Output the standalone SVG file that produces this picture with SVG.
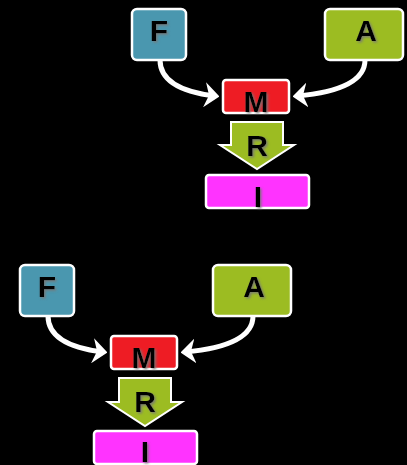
<svg xmlns="http://www.w3.org/2000/svg" width="407" height="465" viewBox="0 0 407 465">
<style>
.box{stroke:#fff;stroke-width:2.5}
.f{fill:#4A97AF}
.a{fill:#9CBC22}
.m{fill:#EE1C24}
.i{fill:#FF33FF}
.r{fill:#9CBC22;stroke:#fff;stroke-width:2}
.lbl{font-family:"Liberation Sans",Arial,sans-serif;font-weight:bold;font-size:30px;fill:#000;text-anchor:middle;filter:url(#sh)}
.con{fill:none;stroke:#fff;stroke-width:5}
</style>
<defs>
<filter id="sh" x="-30%" y="-30%" width="160%" height="160%">
<feDropShadow dx="1.5" dy="1.5" stdDeviation="1" flood-color="#777" flood-opacity="0.9"/>
</filter>
<marker id="ah" viewBox="0 0 10 10" refX="7" refY="5" markerWidth="3" markerHeight="5" markerUnits="strokeWidth" orient="auto" preserveAspectRatio="none">
<path d="M0,0 L10,5 L0,10 L3,5 Z" fill="#fff"/>
</marker>
</defs>
<rect width="407" height="465" fill="#000"/>
<g id="top">
<g id="connectors1">
<path class="con" d="M160,60 C160,85 190,93 215,96" marker-end="url(#ah)"/>
<path class="con" d="M365,60 C365,85 330,93 297,96" marker-end="url(#ah)"/>
</g>
<g id="F1"><rect class="box f" x="132" y="9" width="54" height="51" rx="5"/><text class="lbl" x="159" y="41">F</text></g>
<g id="A1"><rect class="box a" x="325" y="9" width="78" height="51" rx="5"/><text class="lbl" x="366" y="41">A</text></g>
<g id="M1"><rect class="box m" x="223" y="80" width="66" height="33" rx="3"/><text class="lbl" x="256" y="112">M</text></g>
<g id="R1"><path class="r" d="M231,122 H283 V145 H294 L257,169 L220,145 H231 Z"/><text class="lbl" x="257" y="156">R</text></g>
<g id="I1"><rect class="box i" x="206" y="175" width="103" height="33" rx="3"/><text class="lbl" x="258" y="207">I</text></g>
</g>
<g id="bottom">
<g id="connectors2">
<path class="con" d="M48,316 C48,341 78,349 103,352" marker-end="url(#ah)"/>
<path class="con" d="M253,316 C253,341 218,349 185,352" marker-end="url(#ah)"/>
</g>
<g id="F2"><rect class="box f" x="20" y="265" width="54" height="51" rx="5"/><text class="lbl" x="47" y="297">F</text></g>
<g id="A2"><rect class="box a" x="213" y="265" width="78" height="51" rx="5"/><text class="lbl" x="254" y="297">A</text></g>
<g id="M2"><rect class="box m" x="111" y="336" width="66" height="33" rx="3"/><text class="lbl" x="144" y="368">M</text></g>
<g id="R2"><path class="r" d="M119,378 H171 V402 H182 L145,426 L108,402 H119 Z"/><text class="lbl" x="145" y="412">R</text></g>
<g id="I2"><rect class="box i" x="94" y="431" width="103" height="33" rx="3"/><text class="lbl" x="145" y="462">I</text></g>
</g>
</svg>
